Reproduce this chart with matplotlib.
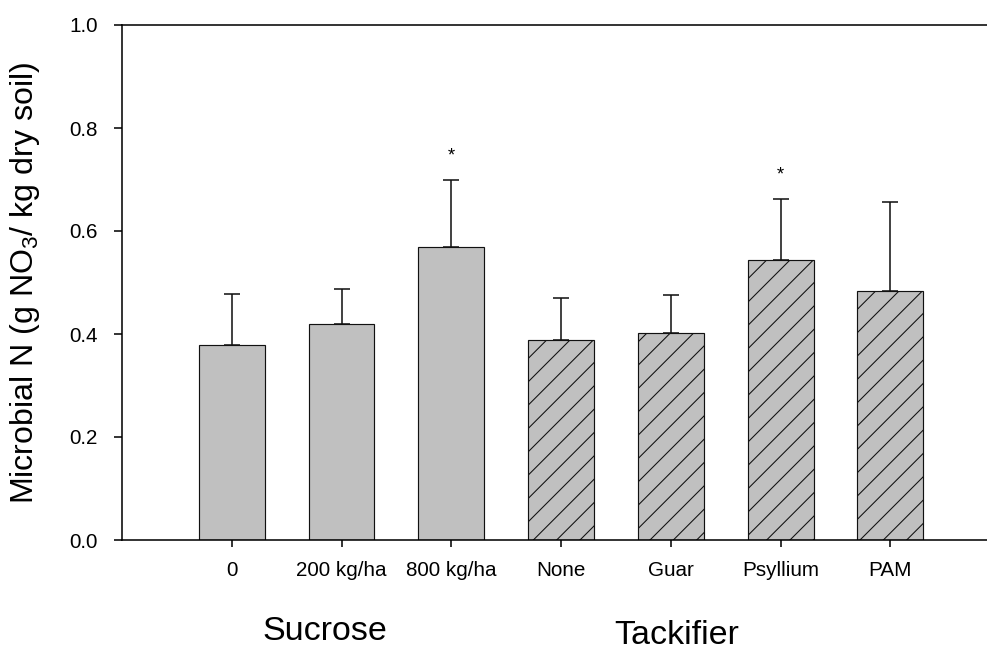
import numpy as np
import matplotlib
matplotlib.use("Agg")
import matplotlib.pyplot as plt

categories = ["0", "200 kg/ha", "800 kg/ha", "None", "Guar", "Psyllium", "PAM"]
means = [0.379, 0.419, 0.568, 0.389, 0.401, 0.543, 0.483]
errors = [0.099, 0.068, 0.131, 0.081, 0.075, 0.120, 0.173]
significant = [False, False, True, False, False, True, False]
hatched = [False, False, False, True, True, True, True]
groups = ["Sucrose", "Tackifier"]

plt.rcParams["font.family"] = ["Liberation Sans", "DejaVu Sans"]
plt.rcParams["mathtext.fontset"] = "custom"
plt.rcParams["mathtext.rm"] = "Liberation Sans"
plt.rcParams["mathtext.it"] = "Liberation Sans"
plt.rcParams["hatch.linewidth"] = 0.55

DPI = 140
fig = plt.figure(figsize=(987 / DPI, 649 / DPI), dpi=DPI)
ax = fig.add_axes([122 / 987, 109 / 649, 1 - 122 / 987, (540 - 25) / 649])

x = np.arange(len(categories))
for i in x:
    ax.bar(i, means[i], width=0.6, color="#c0c0c0", edgecolor="#111111",
           linewidth=0.6, hatch="//" if hatched[i] else None, zorder=2)
ax.errorbar(x, means, yerr=[np.zeros(len(x)), errors], fmt="none",
            ecolor="#111111", elinewidth=0.8, capsize=4.3, capthick=0.8, zorder=3)

for i in x:
    if significant[i]:
        ax.text(i, means[i] + errors[i] + 0.03, "*", ha="center", va="bottom",
                fontsize=9.5)

ax.set_xlim(-1, 6.88)
ax.set_ylim(0, 1.0)
ax.set_xticks(x)
ax.set_xticklabels(categories, fontsize=10.6)
ax.set_yticks(np.arange(0, 1.01, 0.2))
ax.set_yticklabels([f"{v:.1f}" for v in np.arange(0, 1.01, 0.2)], fontsize=10.6)
ax.tick_params(axis="y", length=4.1, width=0.8, pad=8.5)
ax.tick_params(axis="x", length=3.6, width=0.8, pad=7)

ax.spines["right"].set_visible(False)
for s in ["left", "top", "bottom"]:
    ax.spines[s].set_linewidth(0.8)

ax.set_ylabel("Microbial N (g NO$_3$/ kg dry soil)", fontsize=16.5)
ax.yaxis.set_label_coords(-0.093, 0.5)

fig.text(325 / 987, 1 - 631 / 649, groups[0], ha="center", va="center", fontsize=17.5)
fig.text(677 / 987, 1 - 635 / 649, groups[1], ha="center", va="center", fontsize=17.5)

fig.savefig("out.png", dpi=DPI)
